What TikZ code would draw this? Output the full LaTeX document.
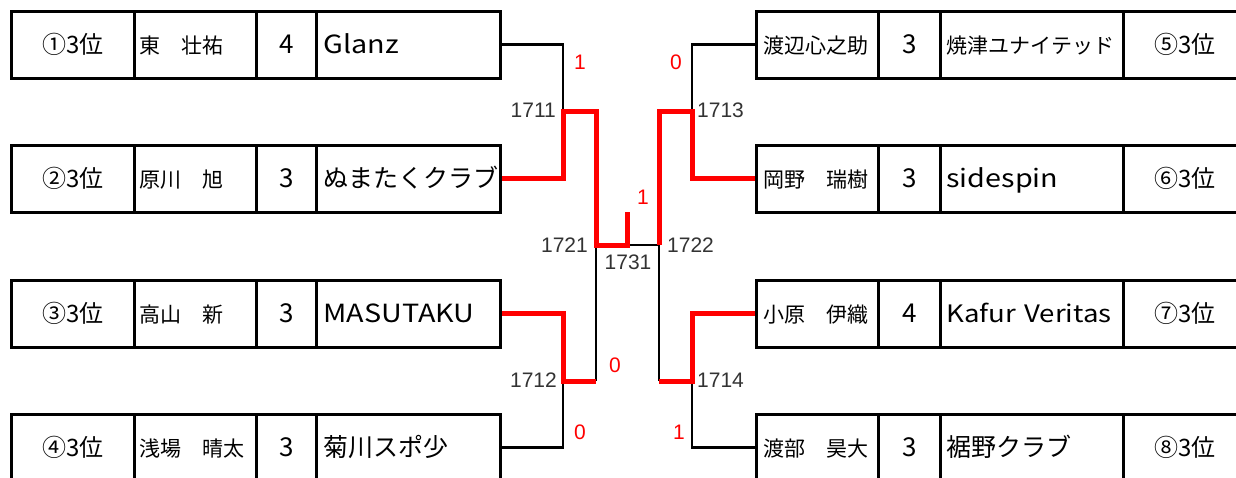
\documentclass[tikz,border=0pt]{standalone}
\usepackage{fontspec}
\setmainfont{Noto Sans CJK JP}
\newfontfamily\numfont{Liberation Sans}
\newfontfamily\widefont[FakeStretch=1.15]{Noto Sans CJK JP}

\tikzset{
  cell/.style={draw, line width=3pt, minimum height=67pt, inner ysep=0pt, text height=18pt, text depth=0pt, anchor=west},
  rankcell/.style={cell, inner xsep=0pt, text width=123pt, align=center, font=\fontsize{24pt}{24pt}\selectfont},
  namecell/.style={cell, inner xsep=5pt, text width=112pt, align=left, font=\fontsize{21pt}{21pt}\selectfont},
  scorecell/.style={cell, inner xsep=0pt, text width=60pt, align=center, font=\fontsize{26pt}{26pt}\selectfont},
  teamcell/.style={cell, inner xsep=7pt, text width=170pt, align=left, font=\fontsize{25pt}{25pt}\selectfont},
  latinteam/.style={font=\widefont\fontsize{25pt}{25pt}\selectfont},
  winline/.style={red, line width=5pt},
  loseline/.style={black, line width=2.2pt},
  matchno/.style={text=black!80, inner sep=0pt, font=\numfont\fontsize{21pt}{21pt}\selectfont},
  gamepts/.style={text=red, inner sep=0pt, font=\numfont\fontsize{21pt}{21pt}\selectfont},
}

\begin{document}
\begin{tikzpicture}[x=1pt, y=-1pt]
        \useasboundingbox (0,0) rectangle (1236,477);
        % 左側 一段目
        \node[rankcell] (r1) at (10,44.5) {①3位};
        \node[namecell] (n1) at (133,44.5) {東　壮祐};
        \node[scorecell] (s1) at (255,44.5) {4};
        \node[teamcell, latinteam] (t1) at (315,44.5) {Glanz};
        % 左側 二段目
        \node[rankcell] (r2) at (10,178.5) {②3位};
        \node[namecell] (n2) at (133,178.5) {原川　旭};
        \node[scorecell] (s2) at (255,178.5) {3};
        \node[teamcell] (t2) at (315,178.5) {ぬまたくクラブ};
        % 左側 三段目
        \node[rankcell] (r3) at (10,313.5) {③3位};
        \node[namecell] (n3) at (133,313.5) {高山　新};
        \node[scorecell] (s3) at (255,313.5) {3};
        \node[teamcell, latinteam] (t3) at (315,313.5) {MASUTAKU};
        % 左側 四段目
        \node[rankcell] (r4) at (10,447.5) {④3位};
        \node[namecell] (n4) at (133,447.5) {浅場　晴太};
        \node[scorecell] (s4) at (255,447.5) {3};
        \node[teamcell] (t4) at (315,447.5) {菊川スポ少};
        % 右側 一段目
        \node[namecell, inner xsep=7pt, text width=108pt] (n5) at (755,44.5) {渡辺心之助};
        \node[scorecell, text width=62pt] (s5) at (877,44.5) {3};
        \node[teamcell, inner xsep=6pt, text width=171pt, font=\fontsize{21pt}{21pt}\selectfont] (t5) at (939,44.5) {焼津ユナイテッド};
        \node[rankcell] (r5) at (1122,44.5) {⑤3位};
        % 右側 二段目
        \node[namecell, inner xsep=7pt, text width=108pt] (n6) at (755,178.5) {岡野　瑞樹};
        \node[scorecell, text width=62pt] (s6) at (877,178.5) {3};
        \node[teamcell, latinteam, inner xsep=6pt, text width=171pt] (t6) at (939,178.5) {sidespin};
        \node[rankcell] (r6) at (1122,178.5) {⑥3位};
        % 右側 三段目
        \node[namecell, inner xsep=7pt, text width=108pt] (n7) at (755,313.5) {小原　伊織};
        \node[scorecell, text width=62pt] (s7) at (877,313.5) {4};
        \node[teamcell, inner xsep=6pt, text width=171pt, font=\widefont\fontsize{24pt}{24pt}\selectfont] (t7) at (939,313.5) {Kafur Veritas};
        \node[rankcell] (r7) at (1122,313.5) {⑦3位};
        % 右側 四段目
        \node[namecell, inner xsep=7pt, text width=108pt] (n8) at (755,447.5) {渡部　昊大};
        \node[scorecell, text width=62pt] (s8) at (877,447.5) {3};
        \node[teamcell, inner xsep=6pt, text width=171pt] (t8) at (939,447.5) {裾野クラブ};
        \node[rankcell] (r8) at (1122,447.5) {⑧3位};

        % 組み合わせの分岐点
        \coordinate (q1711) at (563,111);
        \coordinate (q1712) at (563,381);
        \coordinate (q1713) at (692,111);
        \coordinate (q1714) at (692,381);
        \coordinate (c1721) at (596,245);
        \coordinate (c1722) at (659,245);
        \coordinate (f1731) at (627,212);

        % 負け側（黒線）
        \draw[loseline] (t1.east) -| (q1711);
        \draw[loseline] (t4.east) -| (q1712);
        \draw[loseline] (q1712 -| c1721) -- (c1721);
        \draw[loseline] (n5.west) -| (q1713);
        \draw[loseline] (n8.west) -| (q1714);
        \draw[loseline] (q1714 -| c1722) -- (c1722);
        \draw[loseline] (c1721) -- (c1722);
        % 勝ち上がり（赤線）
        \draw[winline] (t2.east) -| (q1711) -| (c1721) -| (f1731);
        \draw[winline] (t3.east) -| (q1712) -- (q1712 -| c1721);
        \draw[winline] (n6.west) -| (q1713) -| (c1722);
        \draw[winline] (n7.west) -| (q1714) -- (q1714 -| c1722);

        % 試合番号
        \node[matchno, anchor=east] (m1711) at (556,110) {1711};
        \node[matchno, anchor=east] (m1712) at (557,380) {1712};
        \node[matchno, anchor=west] (m1713) at (697,110) {1713};
        \node[matchno, anchor=west] (m1714) at (697,380) {1714};
        \node[matchno, anchor=east] (m1721) at (588,245) {1721};
        \node[matchno, anchor=west] (m1722) at (667,245) {1722};
        \node[matchno] (m1731) at (628,262) {1731};

        % 得点
        \node[gamepts] (p1) at (580,62) {1};
        \node[gamepts] (p2) at (676,62) {0};
        \node[gamepts] (p3) at (643,197) {1};
        \node[gamepts] (p4) at (615,365) {0};
        \node[gamepts] (p5) at (580,432) {0};
        \node[gamepts] (p6) at (679,432) {1};
\end{tikzpicture}
\end{document}
